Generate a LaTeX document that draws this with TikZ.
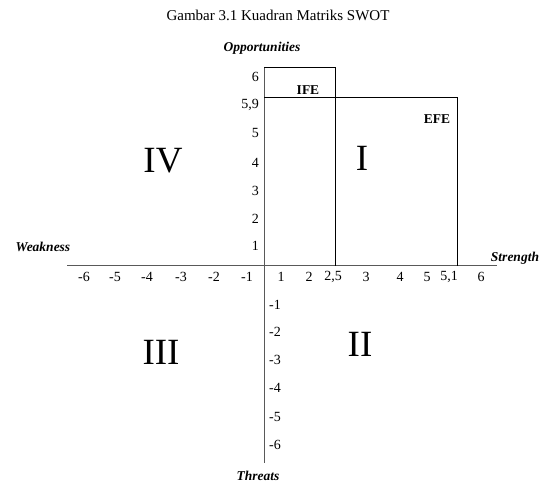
\documentclass[tikz,border=0pt]{standalone}
\usepackage{fontspec}
\setmainfont{Liberation Serif}
\usetikzlibrary{positioning}

\begin{document}
\begin{tikzpicture}[x=1pt,y=-1pt,
  axis/.style={draw=black!65,line width=1pt},
  frame/.style={draw=black,line width=0.8pt},
  tick/.style={font=\fontsize{14}{14}\selectfont,inner sep=0pt},
  axname/.style={font=\fontsize{13.5}{13.5}\selectfont\bfseries\itshape,inner sep=0pt},
  tag/.style={font=\fontsize{13.5}{13.5}\selectfont\bfseries,inner sep=0pt},
  quad/.style={font=\fontsize{37}{37}\selectfont,inner sep=0pt}]
\useasboundingbox (0,0) rectangle (550,486);
% title
\node[font=\fontsize{15}{15}\selectfont] (title) at (278,15) {Gambar 3.1 Kuadran Matriks SWOT};
% axes
\coordinate (xmin) at (67,266);
\coordinate (xmax) at (497,266);
\coordinate (ymax) at (264,67);
\coordinate (ymin) at (264,463);
\draw[axis] (xmin) -- (xmax);
\draw[axis] (ymax) -- (ymin);
% IFE / EFE lines
\coordinate (ife top) at (335,67);
\coordinate (ife bot) at (335,266);
\coordinate (efe left) at (264,97);
\coordinate (efe top) at (457,97);
\coordinate (efe bot) at (457,266);
\draw[frame] (ymax) -- (ife top) -- (ife bot);
\draw[frame] (efe left) -- (efe top) -- (efe bot);
\node[tag] (ife) at (308,90) {IFE};
\node[tag] (efe) at (437,119) {EFE};
% axis names
\node[axname] (opp) at (262,48) {Opportunities};
\node[axname] (thr) at (258,476) {Threats};
\node[axname] (weak) at (43,247) {Weakness};
\node[axname] (str) at (515,258) {Strength};
% ticks on x axis
\foreach \lab/\px [count=\k] in {-6/84,-5/115,-4/147,-3/181,-2/214,-1/247,
    1/281,2/309,{2,5}/333,3/366,4/400,5/427,{5,1}/449,6/481}
  \node[tick] (xt\k) at (\px,277) {\lab};
% ticks on y axis
\foreach \lab/\py [count=\k] in {6/77,{5,9}/105,5/133,4/163,3/191,2/219,1/246}
  \node[tick,anchor=east] (yp\k) at (259,\py) {\lab};
\foreach \lab/\py [count=\k] in {-1/305,-2/332,-3/360,-4/388,-5/417,-6/445}
  \node[tick] (yn\k) at (275,\py) {\lab};
% quadrants
\node[quad] (q1) at (362,158) {I};
\node[quad] (q2) at (360,344) {II};
\node[quad] (q3) at (161,352) {III};
\node[quad] (q4) at (163,161) {IV};
\end{tikzpicture}
\end{document}
